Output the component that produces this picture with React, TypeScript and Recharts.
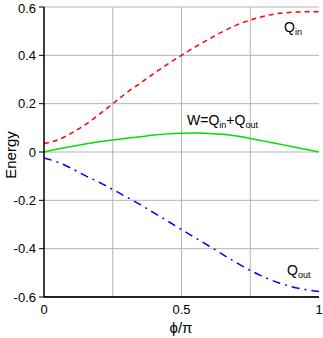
import React from 'react';
import { LineChart, Line, XAxis, YAxis, CartesianGrid } from 'recharts';

const phiOverPi = [0, 0.05, 0.1, 0.15, 0.2, 0.25, 0.3, 0.35, 0.4, 0.45, 0.5, 0.55, 0.6, 0.65, 0.7, 0.75, 0.8, 0.85, 0.9, 0.95, 1];
const qIn = [0.035, 0.05, 0.078, 0.113, 0.155, 0.2, 0.245, 0.285, 0.325, 0.364, 0.4, 0.435, 0.467, 0.498, 0.525, 0.546, 0.562, 0.573, 0.578, 0.58, 0.58];
const qOut = [-0.025, -0.042, -0.068, -0.098, -0.125, -0.155, -0.186, -0.218, -0.252, -0.286, -0.321, -0.355, -0.389, -0.424, -0.458, -0.49, -0.517, -0.54, -0.557, -0.569, -0.577];
const wNet = [0, 0.012, 0.023, 0.033, 0.042, 0.05, 0.057, 0.063, 0.07, 0.075, 0.078, 0.079, 0.077, 0.073, 0.066, 0.056, 0.045, 0.034, 0.023, 0.011, 0];

const xTicks = [0, 0.5, 1];
const xGrid = [0.25, 0.5, 0.75];
const yTicks = [-0.6, -0.4, -0.2, 0, 0.2, 0.4, 0.6];

const rows = phiOverPi.map((x, i) => ({ x, qin: qIn[i], qout: qOut[i], w: wNet[i] }));

const FONT = '"Liberation Sans", Arial, sans-serif';

export default function App() {
  return (
    <div style={{ position: 'fixed', left: 0, top: 0, width: 323, height: 338, background: '#fff' }}>
      <LineChart width={323} height={338} data={rows} margin={{ top: 7, right: 4, bottom: 0, left: 0 }}>
        <CartesianGrid stroke="#b4b4b4" strokeWidth={1} verticalValues={xGrid} horizontalValues={yTicks} />
        <XAxis
          dataKey="x"
          type="number"
          domain={[0, 1]}
          ticks={xTicks}
          tickLine={false}
          axisLine={{ stroke: '#222', strokeWidth: 2 }}
          height={41}
          tick={{ fill: '#000', fontSize: 13, fontFamily: FONT }}
          tickFormatter={(v: number) => String(v)}
        />
        <XAxis xAxisId="top" orientation="top" type="number" domain={[0, 1]} height={0} tick={false} tickLine={false} axisLine={{ stroke: '#000', strokeWidth: 1.5 }} />
        <YAxis
          type="number"
          domain={[-0.6, 0.6]}
          ticks={yTicks}
          width={44}
          tickSize={5}
          tickMargin={3}
          tickLine={{ stroke: '#000' }}
          axisLine={{ stroke: '#000', strokeWidth: 1.5 }}
          tick={{ fill: '#000', fontSize: 13, fontFamily: FONT }}
          tickFormatter={(v: number) => (Math.abs(v) < 1e-9 ? '0' : String(v))}
        />
        <YAxis yAxisId="right" orientation="right" type="number" domain={[-0.6, 0.6]} width={0} tick={false} tickLine={false} axisLine={{ stroke: '#000', strokeWidth: 1.5 }} />
        <Line dataKey="qin" stroke="#ff0000" strokeWidth={1.5} strokeDasharray="5 4" dot={false} isAnimationActive={false} type="monotone" />
        <Line dataKey="w" stroke="#00e000" strokeWidth={1.5} dot={false} isAnimationActive={false} type="monotone" />
        <Line dataKey="qout" stroke="#0000ff" strokeWidth={1.5} strokeDasharray="8 5 2 5" dot={false} isAnimationActive={false} type="monotone" />
      </LineChart>
      <svg width={323} height={338} style={{ position: 'absolute', left: 0, top: 0, pointerEvents: 'none' }} fontFamily={FONT}>
        <text x={10} y={155} fontSize={15} textAnchor="middle" dominantBaseline="central" transform="rotate(-90 10 155)" fill="#000">Energy</text>
        <text x={181} y={333} fontSize={15} textAnchor="middle" fill="#000">ϕ/π</text>
        <text x={284} y={32} fontSize={14} fill="#000">Q<tspan fontSize={9} dy={3}>in</tspan></text>
        <text x={187} y={125} fontSize={14} fill="#000">W=Q<tspan fontSize={9} dy={3}>in</tspan><tspan dy={-3}>+Q</tspan><tspan fontSize={9} dy={3}>out</tspan></text>
        <text x={287} y={275} fontSize={14} fill="#000">Q<tspan fontSize={9} dy={3}>out</tspan></text>
      </svg>
    </div>
  );
}
